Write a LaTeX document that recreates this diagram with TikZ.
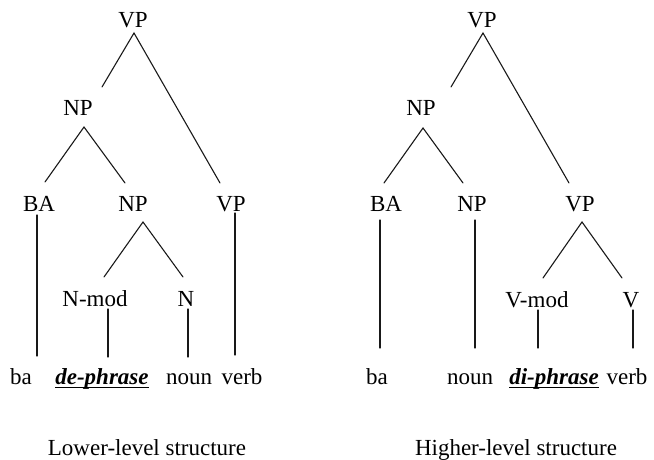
\documentclass[tikz,border=0pt]{standalone}
\usepackage{fontspec}
\setmainfont{Liberation Serif}
\begin{document}
\begin{tikzpicture}[x=1pt,y=-1pt,
  lab/.style={anchor=base,inner sep=0pt,font=\fontsize{23}{27}\selectfont},
  word/.style={lab},
  key/.style={lab,font=\fontsize{23}{27}\selectfont\bfseries\itshape},
  branch/.style={line width=1.1pt,line cap=round,draw=black!90},
  rule/.style={line width=1.3pt}]
\path[use as bounding box] (0,0) rectangle (654,460);

% ---------- lower-level structure ----------
\node[lab] (vpA)   at (133,28)  {VP};
\node[lab] (npA)   at (78,115)  {NP};
\node[lab] (baA)   at (39,211)  {BA};
\node[lab] (np2A)  at (133,211) {NP};
\node[lab] (vp2A)  at (231,211) {VP};
\node[lab] (nmodA) at (95,306)  {N-mod};
\node[lab] (nA)    at (186,306) {N};
\node[word] (baWA)   at (21,384)  {ba};
\node[key]  (deWA)   at (102,384) {de-phrase};
\node[word] (nounWA) at (189,384) {noun};
\node[word] (verbWA) at (242,384) {verb};
\node[lab] (capA)  at (147,455) {Lower-level structure};

\coordinate (vpA-s)   at (134,33);
\coordinate (npA-n)   at (102,87);
\coordinate (vp2A-n)  at (220,183);
\coordinate (npA-s)   at (84,127);
\coordinate (baA-n)   at (45,182);
\coordinate (np2A-n)  at (125,183);
\coordinate (baA-s)   at (37,215);
\coordinate (baWA-n)  at (37,356);
\coordinate (vp2A-s)  at (235,213);
\coordinate (verbWA-n) at (235,355);
\coordinate (np2A-s)  at (143,222);
\coordinate (nmodA-n) at (104,277);
\coordinate (nA-n)    at (183,277);
\coordinate (nmodA-s) at (108,309);
\coordinate (deWA-n)  at (108,357);
\coordinate (nA-s)    at (188,309);
\coordinate (nounWA-n) at (188,357);

\draw[branch] (npA-n) -- (vpA-s) -- (vp2A-n);
\draw[branch] (baA-n) -- (npA-s) -- (np2A-n);
\draw[branch] (baA-s) -- (baWA-n);
\draw[branch] (vp2A-s) -- (verbWA-n);
\draw[branch] (nmodA-n) -- (np2A-s) -- (nA-n);
\draw[branch] (nmodA-s) -- (deWA-n);
\draw[branch] (nA-s) -- (nounWA-n);
\draw[rule] ([yshift=-3.5pt]deWA.base west) -- ([yshift=-3.5pt]deWA.base east);

% ---------- higher-level structure ----------
\node[lab] (vpB)   at (482,28)  {VP};
\node[lab] (npB)   at (421,116) {NP};
\node[lab] (baB)   at (386,211) {BA};
\node[lab] (np2B)  at (472,211) {NP};
\node[lab] (vp2B)  at (580,211) {VP};
\node[lab] (vmodB) at (537,307) {V-mod};
\node[lab] (vB)    at (631,307) {V};
\node[word] (baWB)   at (377,384) {ba};
\node[word] (nounWB) at (470,384) {noun};
\node[key]  (diWB)   at (554,384) {di-phrase};
\node[word] (verbWB) at (627,384) {verb};
\node[lab] (capB)  at (516,455) {Higher-level structure};

\coordinate (vpB-s)   at (483,33);
\coordinate (npB-n)   at (451,87);
\coordinate (vp2B-n)  at (569,183);
\coordinate (npB-s)   at (423,128);
\coordinate (baB-n)   at (384,183);
\coordinate (np2B-n)  at (463,183);
\coordinate (baB-s)   at (380,220);
\coordinate (baWB-n)  at (380,348);
\coordinate (np2B-s)  at (475,220);
\coordinate (nounWB-n) at (475,348);
\coordinate (vp2B-s)  at (582,222);
\coordinate (vmodB-n) at (543,278);
\coordinate (vB-n)    at (622,278);
\coordinate (vmodB-s) at (538,310);
\coordinate (diWB-n)  at (538,348);
\coordinate (vB-s)    at (633,310);
\coordinate (verbWB-n) at (633,348);

\draw[branch] (npB-n) -- (vpB-s) -- (vp2B-n);
\draw[branch] (baB-n) -- (npB-s) -- (np2B-n);
\draw[branch] (baB-s) -- (baWB-n);
\draw[branch] (np2B-s) -- (nounWB-n);
\draw[branch] (vmodB-n) -- (vp2B-s) -- (vB-n);
\draw[branch] (vmodB-s) -- (diWB-n);
\draw[branch] (vB-s) -- (verbWB-n);
\draw[rule] ([yshift=-3.5pt]diWB.base west) -- ([yshift=-3.5pt]diWB.base east);
\end{tikzpicture}
\end{document}
